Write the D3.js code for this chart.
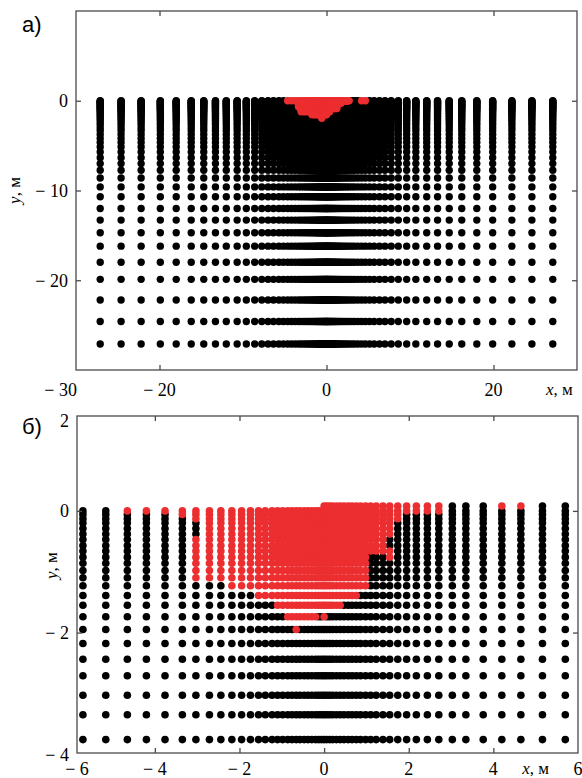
<!DOCTYPE html>
<html>
<head>
<meta charset="utf-8">
<script src="https://cdn.jsdelivr.net/npm/d3@7"></script>
<style>
body { margin: 0; background: #fff; }
</style>
</head>
<body>
<svg id="fig" width="582" height="778"></svg>
<script>
// graded mesh node coordinates (m), same spacing in x (both sides) and in depth
let meshNodes = [0, 0.06, 0.13, 0.20, 0.29, 0.38, 0.47, 0.57, 0.66, 0.76, 0.86, 0.98,
    1.10, 1.23, 1.39, 1.55, 1.74, 1.95, 2.18, 2.44, 2.71, 3.03, 3.35, 3.76, 4.20,
    4.65, 5.16, 5.70, 6.35, 7.0, 7.75, 8.6, 9.6, 10.7, 12.0, 13.3, 14.7, 16.2,
    18.0, 19.9, 22.2, 24.6, 27.1]

// red (failed) nodes: [xMin, xMax, yMin, yMax]
let aRed = [
    [-4.7, -3.7, -0.03, 1],
    [-3.4, -3.3, -0.7, 1],
    [-3.1, -1.9, -1.25, 1],
    [-1.8, -0.6, -1.6, 1],
    [-0.6, -0.5, -2.0, 1],
    [-0.5, 0.02, -1.6, 1],
    [0.03, 0.42, -1.25, 1],
    [0.45, 1.25, -0.9, 1],
    [1.3, 1.8, -0.3, 1],
    [1.9, 2.5, -0.1, 1],
    [2.6, 2.8, -0.03, 1],
    [4.1, 4.7, -0.03, 1]
]
let bRed = [
    [-4.7, -3.7, -0.03, 1],
    [-3.4, -3.3, -0.07, 1],
    [-3.1, -3.0, -0.14, 1],
    [-3.1, -3.0, -1.12, -0.45],
    [-2.8, -2.4, -1.12, 1],
    [-2.3, -1.7, -1.25, 1],
    [-1.6, -1.2, -1.42, 1],
    [-1.15, -0.95, -1.6, 1],
    [-0.9, -0.18, -1.78, 1],
    [-0.7, -0.6, -2.0, 1],
    [-0.16, -0.01, -1.6, 1],
    [-0.01, 0.01, -1.78, 1],
    [0.02, 0.42, -1.6, 1],
    [0.45, 0.8, -1.42, 1],
    [0.82, 1.0, -1.25, 1],
    [1.05, 1.45, -0.7, 1],
    [1.5, 1.6, -0.45, 1],
    [1.5, 1.6, -0.8, -0.62],
    [1.7, 1.8, -0.14, 1],
    [1.9, 2.8, -0.03, 1],
    [4.1, 4.7, 0.05, 1]
]
// raised surface nodes: [xMin, xMax, y]
let aSurface = []
let bSurface = [[0, 6, 0.08]]

// ticks and labels
let aXTicks = [-20, 0, 20]
let aYTicks = [-20, -10, 0]
let aXEdge = ["\u2212 30", null]
let aYEdge = [null, null]
let bXTicks = [-4, -2, 0, 2, 4]
let bYTicks = [-2, 0]
let bXEdge = ["\u2212 6", "6"]
let bYEdge = ["\u2212 4", "2"]

let serif = "'Liberation Serif', 'DejaVu Serif', 'Times New Roman', serif"
let svg = d3.select("#fig")
let fmt = v => v < 0 ? "\u2212 " + Math.abs(v) : String(v)

drawPanel({
    tag: "а)", tagY: 32,
    xDomain: [-30, 30], yDomain: [-30, 10],
    xRange: [76, 577], yRange: [370, 11],
    r: 3.7, red: aRed, surface: aSurface,
    xTicks: aXTicks, yTicks: aYTicks, xEdge: aXEdge, yEdge: aYEdge,
    xLabelGap: 26, xName: 27.9, yNameX: 20, yNameAt: -10
})
drawPanel({
    tag: "б)", tagY: 434,
    xDomain: [-5.84, 6.0], yDomain: [-3.98, 1.56],
    xRange: [77, 578], yRange: [753, 416],
    r: 3.8, red: bRed, surface: bSurface,
    xTicks: bXTicks, yTicks: bYTicks, xEdge: bXEdge, yEdge: bYEdge,
    xLabelGap: 22, xName: 5.0, yNameX: 57, yNameAt: -0.9
})

function drawPanel(p) {
    let x = d3.scaleLinear().domain(p.xDomain).range(p.xRange)
    let y = d3.scaleLinear().domain(p.yDomain).range(p.yRange)
    let g = svg.append("g")

    let xs = meshNodes.slice(1).map(v => -v).reverse().concat(meshNodes)
        .filter(v => v >= p.xDomain[0] && v <= p.xDomain[1])
    let ys = meshNodes.map(v => -v).filter(v => v >= p.yDomain[0])

    let nodes = []
    xs.forEach(xv => {
        ys.forEach(yv => nodes.push({ x: xv, y: yv }))
        p.surface.forEach(s => {
            if (xv >= s[0] && xv <= s[1]) nodes.push({ x: xv, y: s[2] })
        })
    })
    nodes.forEach(n => {
        n.red = p.red.some(b => n.x >= b[0] && n.x <= b[1] && n.y >= b[2] && n.y <= b[3])
    })

    g.selectAll("circle.blk")
        .data(nodes.filter(n => !n.red))
        .join("circle")
        .attr("cx", d => x(d.x))
        .attr("cy", d => y(d.y))
        .attr("r", p.r)
        .attr("fill", "#000")
    g.selectAll("circle.red")
        .data(nodes.filter(n => n.red))
        .join("circle")
        .attr("cx", d => x(d.x))
        .attr("cy", d => y(d.y))
        .attr("r", p.r)
        .attr("fill", "#ec2e30")

    // frame
    g.append("rect")
        .attr("x", p.xRange[0]).attr("y", p.yRange[1])
        .attr("width", p.xRange[1] - p.xRange[0])
        .attr("height", p.yRange[0] - p.yRange[1])
        .attr("fill", "none").attr("stroke", "#4a4a4a").attr("stroke-width", 1.3)

    // inward ticks on all four sides
    let tickStyle = sel => {
        sel.select(".domain").remove()
        sel.selectAll("text").remove()
        sel.selectAll("line").attr("stroke", "#4a4a4a").attr("stroke-width", 1.3)
    }
    g.append("g").attr("transform", "translate(0," + p.yRange[0] + ")")
        .call(d3.axisBottom(x).tickValues(p.xTicks).tickSize(-5)).call(tickStyle)
    g.append("g").attr("transform", "translate(0," + p.yRange[1] + ")")
        .call(d3.axisTop(x).tickValues(p.xTicks).tickSize(-5)).call(tickStyle)
    g.append("g").attr("transform", "translate(" + p.xRange[0] + ",0)")
        .call(d3.axisLeft(y).tickValues(p.yTicks).tickSize(-5)).call(tickStyle)
    g.append("g").attr("transform", "translate(" + p.xRange[1] + ",0)")
        .call(d3.axisRight(y).tickValues(p.yTicks).tickSize(-5)).call(tickStyle)

    // tick labels
    let xBase = p.yRange[0] + p.xLabelGap
    let leftEnd = p.xDomain[0] === -30
    let xLab = p.xTicks.map(v => ({ px: x(v), t: fmt(v), a: "middle" }))
    if (p.xEdge[0]) xLab.push({ px: x(p.xDomain[0]) + (leftEnd ? 1 : 0), t: p.xEdge[0], a: leftEnd ? "end" : "middle" })
    if (p.xEdge[1]) xLab.push({ px: x(p.xDomain[1]), t: p.xEdge[1], a: "middle" })
    g.selectAll("text.xl").data(xLab).join("text")
        .attr("x", d => d.px).attr("y", xBase)
        .attr("text-anchor", d => d.a)
        .attr("font-family", serif)
        .attr("font-size", 18)
        .text(d => d.t)

    let yLab = p.yTicks.map(v => ({ py: y(v), t: fmt(v) }))
    if (p.yEdge[0]) yLab.push({ py: y(p.yDomain[0]) + 2, t: p.yEdge[0] })
    if (p.yEdge[1]) yLab.push({ py: y(p.yDomain[1]) + 5, t: p.yEdge[1] })
    g.selectAll("text.yl").data(yLab).join("text")
        .attr("x", p.xRange[0] - 8).attr("y", d => d.py)
        .attr("dy", "0.35em")
        .attr("text-anchor", "end")
        .attr("font-family", serif)
        .attr("font-size", 18)
        .text(d => d.t)

    // axis names
    let xn = g.append("text")
        .attr("x", x(p.xName)).attr("y", xBase - 1)
        .attr("text-anchor", "middle")
        .attr("font-family", serif).attr("font-size", 17)
    xn.append("tspan").attr("font-style", "italic").text("x")
    xn.append("tspan").text(", м")

    let yn = g.append("text")
        .attr("transform", "translate(" + p.yNameX + "," + y(p.yNameAt) + ") rotate(-90)")
        .attr("text-anchor", "middle")
        .attr("font-family", serif).attr("font-size", 17)
    yn.append("tspan").attr("font-style", "italic").text("y")
    yn.append("tspan").text(", м")

    svg.append("text")
        .attr("x", 22).attr("y", p.tagY)
        .attr("font-family", "'Liberation Sans', Arial, sans-serif")
        .attr("font-size", 22)
        .text(p.tag)
}
</script>
</body>
</html>
